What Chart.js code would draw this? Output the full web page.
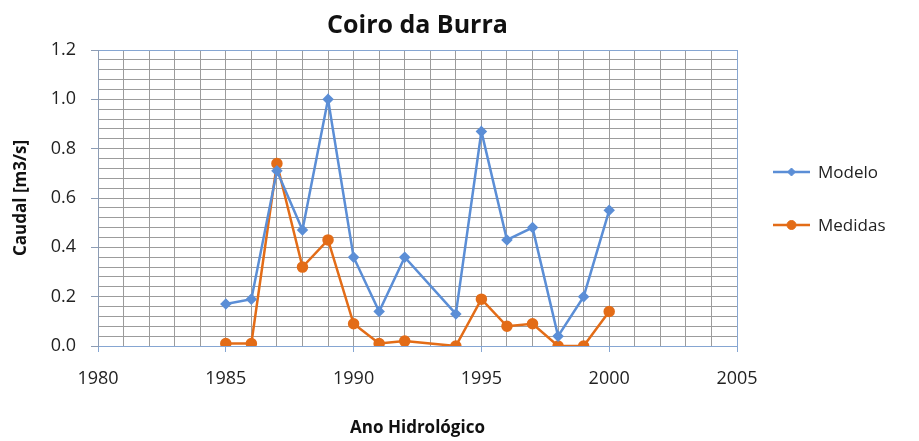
<!DOCTYPE html>
<html>
<head>
<meta charset="utf-8">
<script src="https://cdn.jsdelivr.net/npm/chart.js@4/dist/chart.umd.min.js"></script>
<style>
  html, body { margin: 0; padding: 0; background: #fff; }
  #wrap { width: 919px; height: 441px; }
</style>
</head>
<body>
<div id="wrap"><canvas id="chart" width="919" height="441"></canvas></div>
<script>
// Coiro da Burra - annual flow, model vs measured
const years = [1985, 1986, 1987, 1988, 1989, 1990, 1991, 1992, 1994, 1995, 1996, 1997, 1998, 1999, 2000];
const modelo = [0.17, 0.19, 0.71, 0.47, 1.00, 0.36, 0.14, 0.36, 0.13, 0.87, 0.43, 0.48, 0.04, 0.20, 0.55];
const medidas = [0.01, 0.01, 0.74, 0.32, 0.43, 0.09, 0.01, 0.02, 0.00, 0.19, 0.08, 0.09, 0.00, 0.00, 0.14];
const seriesNames = ['Modelo', 'Medidas'];
const xRange = [1980, 2005];
const yRange = [0, 1.2];

const FONT = "'Open Sans', 'DejaVu Sans', sans-serif";
const blue = '#5b8ed6';
const orange = '#e36c17';
const gridGray = '#9c9c9c';
const frameBlue = '#86a6d2';

const toPoints = (vals) => years.map((yr, i) => ({ x: yr, y: vals[i] }));
const isMajorY = (v) => Math.round(v * 100) % 20 === 0;
const isMajorX = (v) => Math.round(v) % 5 === 0;

// Excel style legend: short line with the marker in the middle
const sideLegend = {
    id: 'sideLegend',
    afterDraw(chart) {
        const { ctx, chartArea } = chart;
        const mid = (chartArea.top + chartArea.bottom) / 2;
        const x0 = chartArea.right + 36;
        ctx.save();
        chart.data.datasets.forEach((ds, i) => {
            const y = mid - 26 + i * 53;
            ctx.strokeStyle = ds.borderColor;
            ctx.lineWidth = ds.borderWidth;
            ctx.beginPath();
            ctx.moveTo(x0, y);
            ctx.lineTo(x0 + 37, y);
            ctx.stroke();
            ctx.fillStyle = ds.pointBackgroundColor;
            ctx.strokeStyle = ds.pointBorderColor;
            ctx.lineWidth = 1;
            Chart.helpers.drawPoint(ctx, {
                pointStyle: ds.pointStyle,
                radius: ds.pointRadius,
                borderWidth: 1
            }, x0 + 18.5, y);
            ctx.fillStyle = '#222';
            ctx.font = '17px ' + FONT;
            ctx.textBaseline = 'middle';
            ctx.fillText(ds.label, x0 + 45, y + 1);
        });
        ctx.restore();
    }
};

const ctx = document.getElementById('chart').getContext('2d');
new Chart(ctx, {
    type: 'line',
    data: {
        datasets: [
            {
                label: seriesNames[0], data: toPoints(modelo),
                borderColor: blue, backgroundColor: blue,
                pointBackgroundColor: blue, pointBorderColor: blue,
                borderWidth: 2.5, pointStyle: 'rectRot', pointRadius: 4, tension: 0
            },
            {
                label: seriesNames[1], data: toPoints(medidas),
                borderColor: orange, backgroundColor: orange,
                pointBackgroundColor: orange, pointBorderColor: orange,
                borderWidth: 2.5, pointStyle: 'circle', pointRadius: 4.5, tension: 0
            }
        ]
    },
    options: {
        responsive: false,
        animation: false,
        layout: { padding: { left: 0, right: 182, top: 0, bottom: 0 } },
        plugins: {
            legend: { display: false },
            tooltip: { enabled: false },
            title: {
                display: true, text: 'Coiro da Burra', fullSize: false,
                color: '#111', font: { family: FONT, size: 25, weight: 'bold' },
                padding: { top: 11, bottom: 9 }
            }
        },
        scales: {
            x: {
                type: 'linear', min: xRange[0], max: xRange[1],
                afterFit: (s) => { s.height = 95; },
                ticks: {
                    stepSize: 1, autoSkip: false, maxRotation: 0, padding: 16,
                    color: '#222', font: { family: FONT, size: 18 },
                    callback: (v) => isMajorX(v) ? String(Math.round(v)) : ''
                },
                grid: {
                    color: (c) => (c.tick && c.tick.value === xRange[1]) ? frameBlue : gridGray,
                    tickColor: (c) => (c.tick && isMajorX(c.tick.value)) ? frameBlue : 'rgba(0,0,0,0)',
                    tickLength: 6, lineWidth: 1
                },
                border: { color: frameBlue, width: 1 },
                title: {
                    display: true, text: 'Ano Hidrológico', color: '#111',
                    font: { family: FONT, size: 17, weight: 'bold' },
                    padding: { top: 0, bottom: 3 }
                }
            },
            y: {
                min: yRange[0], max: yRange[1],
                afterFit: (s) => { s.width = 98; },
                ticks: {
                    stepSize: 0.04, autoSkip: false, padding: 15,
                    color: '#222', font: { family: FONT, size: 18 },
                    callback: (v) => isMajorY(v) ? (Math.round(v * 10) / 10).toFixed(1) : ''
                },
                grid: {
                    color: (c) => (c.tick && Math.abs(c.tick.value - yRange[1]) < 1e-6) ? frameBlue : gridGray,
                    tickColor: (c) => (c.tick && isMajorY(c.tick.value)) ? '#8c9cb4' : 'rgba(0,0,0,0)',
                    tickLength: 7, lineWidth: 1
                },
                border: { color: '#8c9cb4', width: 1 },
                title: {
                    display: true, text: 'Caudal [m3/s]', color: '#111',
                    font: { family: FONT, size: 17, weight: 'bold' },
                    padding: { top: 11, bottom: 0 }
                }
            }
        }
    },
    plugins: [sideLegend]
});
</script>
</body>
</html>
